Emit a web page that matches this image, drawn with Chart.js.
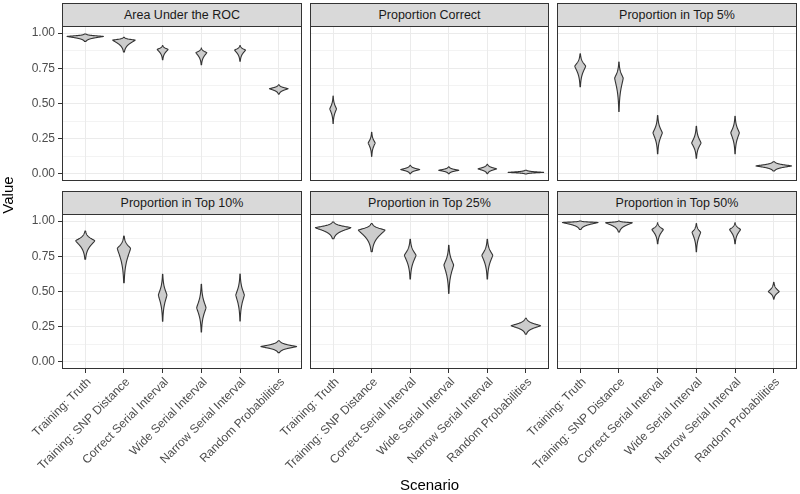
<!DOCTYPE html>
<html><head><meta charset="utf-8">
<script src="https://cdn.jsdelivr.net/npm/chart.js@4.4.1/dist/chart.umd.min.js"></script>
<style>
html,body{margin:0;padding:0;background:#fff;}
#wrap{position:relative;width:800px;height:494px;overflow:hidden;font-family:"Liberation Sans",Arial,sans-serif;background:#fff;}
#wrap canvas{position:absolute;left:0;top:0;}
.strip{position:absolute;box-sizing:border-box;background:#D9D9D9;border:1px solid #333;color:#1A1A1A;font-size:12.5px;line-height:22px;text-align:center;white-space:nowrap;}
.title{position:absolute;font-size:15px;line-height:18px;color:#000;text-align:center;white-space:nowrap;}
</style></head><body><div id="wrap"></div>
<script>
// ---- data ----
const scenarios = ["Training: Truth","Training: SNP Distance","Correct Serial Interval","Wide Serial Interval","Narrow Serial Interval","Random Probabilities"];
const metrics = ["Area Under the ROC","Proportion Correct","Proportion in Top 5%","Proportion in Top 10%","Proportion in Top 25%","Proportion in Top 50%"];
const yTickValues = [0, 0.25, 0.5, 0.75, 1];
const yMinorValues = [0.125, 0.375, 0.625, 0.875];

// per metric, per scenario: value at widest point, lower end, upper end, max half-width (category units)
const peakAUC  = [0.976, 0.950, 0.884, 0.861, 0.879, 0.605];
const lowAUC   = [0.941, 0.865, 0.811, 0.775, 0.800, 0.566];
const highAUC  = [0.993, 0.969, 0.912, 0.893, 0.912, 0.633];
const widthAUC = [0.47, 0.29, 0.14, 0.14, 0.14, 0.24];

const peakCorrect  = [0.462, 0.220, 0.031, 0.026, 0.036, 0.011];
const lowCorrect   = [0.358, 0.125, 0.002, 0.002, 0.002, 0.000];
const highCorrect  = [0.552, 0.296, 0.061, 0.050, 0.068, 0.026];
const widthCorrect = [0.086, 0.09, 0.245, 0.26, 0.24, 0.46];

const peakTop5  = [0.765, 0.680, 0.292, 0.220, 0.292, 0.057];
const lowTop5   = [0.619, 0.443, 0.144, 0.111, 0.144, 0.021];
const highTop5  = [0.853, 0.794, 0.415, 0.339, 0.410, 0.087];
const widthTop5 = [0.14, 0.11, 0.12, 0.12, 0.11, 0.46];

const peakTop10  = [0.860, 0.806, 0.475, 0.385, 0.475, 0.109];
const lowTop10   = [0.730, 0.562, 0.289, 0.213, 0.291, 0.066];
const highTop10  = [0.929, 0.894, 0.622, 0.551, 0.624, 0.151];
const widthTop10 = [0.245, 0.17, 0.11, 0.12, 0.11, 0.46];

const peakTop25  = [0.953, 0.936, 0.757, 0.688, 0.757, 0.257];
const lowTop25   = [0.874, 0.782, 0.589, 0.487, 0.589, 0.197];
const highTop25  = [0.993, 0.983, 0.870, 0.828, 0.870, 0.310];
const widthTop25 = [0.46, 0.345, 0.15, 0.125, 0.14, 0.38];

const peakTop50  = [0.990, 0.988, 0.940, 0.920, 0.940, 0.499];
const lowTop50   = [0.940, 0.922, 0.840, 0.782, 0.840, 0.445];
const highTop50  = [1.000, 1.000, 0.988, 0.983, 0.988, 0.565];
const widthTop50 = [0.46, 0.345, 0.146, 0.11, 0.14, 0.14];

const panels = [
  {peak: peakAUC, low: lowAUC, high: highAUC, width: widthAUC},
  {peak: peakCorrect, low: lowCorrect, high: highCorrect, width: widthCorrect},
  {peak: peakTop5, low: lowTop5, high: highTop5, width: widthTop5},
  {peak: peakTop10, low: lowTop10, high: highTop10, width: widthTop10},
  {peak: peakTop25, low: lowTop25, high: highTop25, width: widthTop25},
  {peak: peakTop50, low: lowTop50, high: highTop50, width: widthTop50}
];

// ---- layout ----
const colLeft = [62, 310, 557], colRight = [302, 549, 797];
const rowTop = [26, 214], rowBottom = [181, 369];
const FONT = '"Liberation Sans", Arial, sans-serif';
Chart.defaults.font.family = FONT;

const violinPlugin = {
  id: 'violins',
  afterDatasetsDraw(chart, args, o) {
    const {ctx} = chart, x = chart.scales.x, y = chart.scales.y;
    ctx.save();
    ctx.fillStyle = '#CCCCCC';
    ctx.strokeStyle = '#333333';
    ctx.lineWidth = 1.1;
    ctx.lineJoin = 'round';
    for (let i = 0; i < o.peak.length; i++) {
      const c = i + 1, p = o.peak[i], lo = o.low[i], hi = o.high[i], w = o.width[i];
      const N = 90, vals = [];
      for (let k = 0; k <= N; k++) vals.push(lo + (hi - lo) * k / N);
      vals.push(p); vals.sort((a, b) => a - b);
      const pts = vals.map(v => {
        const d = v >= p ? (hi - p) : (p - lo);
        const t = d > 0 ? Math.abs(v - p) / d : 0;
        return [v, w * Math.exp(-3.2 * Math.pow(t, 1.3))];
      });
      ctx.beginPath();
      pts.forEach(([v, hw], k) => {
        const px = x.getPixelForValue(c + hw), py = y.getPixelForValue(v);
        if (k) ctx.lineTo(px, py); else ctx.moveTo(px, py);
      });
      for (let k = pts.length - 1; k >= 0; k--) {
        const [v, hw] = pts[k];
        ctx.lineTo(x.getPixelForValue(c - hw), y.getPixelForValue(v));
      }
      ctx.closePath();
      ctx.fill();
      ctx.stroke();
    }
    ctx.restore();
  }
};
const borderPlugin = {
  id: 'panelBorder',
  afterDraw(chart) {
    const {ctx, chartArea: a} = chart;
    ctx.save();
    ctx.strokeStyle = '#333333';
    ctx.lineWidth = 1;
    ctx.strokeRect(a.left + 0.5, a.top + 0.5, a.right - a.left - 1, a.bottom - a.top - 1);
    ctx.restore();
  }
};

const wrap = document.getElementById('wrap');
const isMajor = v => yTickValues.some(t => Math.abs(t - v) < 1e-9);

panels.forEach((pd, idx) => {
  const col = idx % 3, row = Math.floor(idx / 3);
  const left = colLeft[col], right = colRight[col], top = rowTop[row], bottom = rowBottom[row];
  const yAxisW = col === 0 ? 62 : 0;
  const xAxisH = row === 1 ? 110 : 0;
  const canvas = document.createElement('canvas');
  canvas.width = 800; canvas.height = 494;
  wrap.appendChild(canvas);

  const strip = document.createElement('div');
  strip.className = 'strip';
  strip.style.left = left + 'px';
  strip.style.width = (right - left) + 'px';
  strip.style.top = (top - 23) + 'px';
  strip.style.height = '24px';
  strip.textContent = metrics[idx];
  wrap.appendChild(strip);

  new Chart(canvas, {
    type: 'scatter',
    data: {datasets: [{data: []}]},
    options: {
      responsive: false, animation: false, events: [],
      layout: {padding: {left: col === 0 ? 0 : left, right: 800 - right, top: top, bottom: 494 - bottom - xAxisH}},
      plugins: {legend: {display: false}, tooltip: {enabled: false}, violins: pd},
      scales: {
        x: {
          type: 'linear', min: 0.4, max: 6.6,
          afterBuildTicks: s => { s.ticks = scenarios.map((_, i) => ({value: i + 1})); },
          afterFit: s => { s.height = xAxisH; },
          border: {display: false},
          grid: {color: '#EBEBEB', lineWidth: 1, drawTicks: row === 1, tickLength: 4, tickColor: '#333333', tickWidth: 1},
          ticks: {display: row === 1, autoSkip: false, minRotation: 45, maxRotation: 45, padding: 2, labelOffset: 4,
                  color: '#4D4D4D', font: {family: FONT, size: 12},
                  callback: v => scenarios[Math.round(v) - 1]}
        },
        y: {
          type: 'linear', min: -0.05, max: 1.05,
          afterBuildTicks: s => { s.ticks = yTickValues.concat(yMinorValues).sort((a, b) => a - b).map(v => ({value: v})); },
          afterFit: s => { s.width = yAxisW; },
          border: {display: false},
          grid: {color: '#EBEBEB',
                 lineWidth: c => (c.tick && isMajor(c.tick.value)) ? 1 : 0.6,
                 drawTicks: col === 0, tickLength: 4,
                 tickColor: c => (c.tick && isMajor(c.tick.value)) ? '#333333' : 'rgba(0,0,0,0)', tickWidth: 1},
          ticks: {display: col === 0, padding: 3, color: '#4D4D4D', font: {family: FONT, size: 12},
                  callback: v => isMajor(v) ? v.toFixed(2) : ''}
        }
      }
    },
    plugins: [violinPlugin, borderPlugin]
  });
});

const yTitle = document.createElement('div');
yTitle.className = 'title';
yTitle.style.cssText = 'left:-42px;top:186px;width:100px;height:18px;transform:rotate(-90deg);';
yTitle.textContent = 'Value';
wrap.appendChild(yTitle);

const xTitle = document.createElement('div');
xTitle.className = 'title';
xTitle.style.cssText = 'left:62px;top:476px;width:735px;height:18px;';
xTitle.textContent = 'Scenario';
wrap.appendChild(xTitle);
</script></body></html>
